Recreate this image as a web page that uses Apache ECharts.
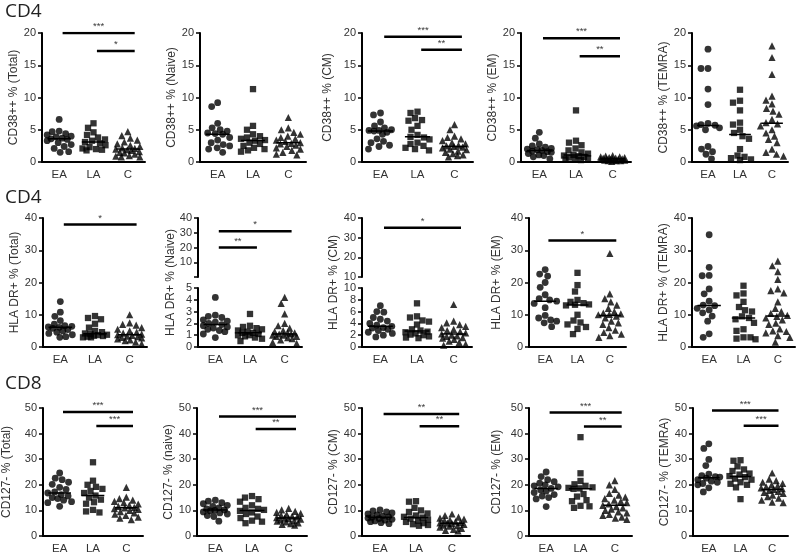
<!DOCTYPE html>
<html><head><meta charset="utf-8">
<script src="https://cdn.jsdelivr.net/npm/echarts@6/dist/echarts.min.js"></script>
<style>html,body{margin:0;padding:0;background:#fff}#c{width:800px;height:555px}</style>
</head><body><div id="c"></div><script>
const groups = ['EA', 'LA', 'C'];
const rowLabels = ['CD4', 'CD4', 'CD8'];

// ---- Row 1: CD38++ ----
const cd38TotEA = [6.6, 4.8, 4.7, 4.4, 4.2, 4.0, 3.9, 3.7, 3.6, 3.5, 3.3, 3.0, 2.7, 2.4, 2.1, 1.6, 1.5];
const cd38TotLA = [6.0, 5.3, 4.6, 4.2, 3.8, 3.5, 3.3, 3.1, 2.9, 2.6, 2.3, 2.1, 2.0, 1.9, 1.8];
const cd38TotC  = [4.7, 4.1, 3.7, 3.4, 3.1, 2.8, 2.6, 2.4, 2.2, 2.1, 2.0, 1.9, 1.8, 1.6, 1.5, 1.4, 1.2, 1.0, 0.9, 0.8, 0.8];
const cd38TotSig = [[0, 2, 20.0, '***'], [1, 2, 17.2, '*']];

const cd38NaiEA = [9.2, 8.6, 6.0, 5.3, 5.0, 4.8, 4.5, 4.4, 4.3, 3.8, 3.4, 3.0, 2.7, 2.5, 2.2, 2.0, 1.5];
const cd38NaiLA = [11.3, 5.6, 5.0, 4.3, 4.0, 3.8, 3.6, 3.4, 3.3, 3.0, 2.8, 2.5, 2.2, 2.0, 1.8, 1.6];
const cd38NaiC  = [6.9, 5.3, 5.0, 4.6, 4.3, 4.0, 3.8, 3.6, 3.4, 3.2, 3.0, 2.9, 2.8, 2.6, 2.4, 2.2, 2.0, 1.8, 1.5, 1.2, 1.1];
const cd38NaiSig = [];

const cd38CmEA = [7.6, 7.3, 6.2, 5.6, 5.3, 5.0, 4.9, 4.9, 4.8, 4.6, 4.3, 3.6, 3.2, 3.0, 2.6, 2.4, 2.0];
const cd38CmLA = [7.8, 7.6, 6.8, 6.5, 6.4, 5.6, 5.0, 4.2, 3.9, 3.8, 3.5, 3.0, 2.8, 2.5, 2.2, 2.0, 1.8];
const cd38CmC  = [5.8, 5.0, 4.0, 3.8, 3.6, 3.3, 3.0, 2.8, 2.6, 2.5, 2.4, 2.3, 2.2, 2.0, 1.9, 1.7, 1.5, 1.3, 1.1, 1.0, 0.8];
const cd38CmSig = [[0, 2, 19.4, '***'], [1, 2, 17.4, '**']];

const cd38EmEA = [4.6, 3.7, 2.8, 2.5, 2.3, 2.1, 2.0, 1.9, 1.8, 1.7, 1.6, 1.5, 1.3, 1.1, 1.0, 0.8, 0.5];
const cd38EmLA = [8.0, 3.3, 3.0, 2.6, 2.1, 1.8, 1.5, 1.3, 1.1, 1.0, 0.9, 0.8, 0.7, 0.6, 0.5, 0.4, 0.3];
const cd38EmC  = [1.0, 0.9, 0.8, 0.8, 0.7, 0.7, 0.6, 0.6, 0.5, 0.5, 0.5, 0.4, 0.4, 0.4, 0.3, 0.3, 0.3, 0.2, 0.2, 0.2, 0.1];
const cd38EmSig = [[0, 2, 19.2, '***'], [1, 2, 16.4, '**']];

const cd38TemEA = [17.5, 14.5, 14.5, 11.3, 8.9, 6.0, 5.8, 5.7, 5.6, 5.3, 5.0, 2.4, 2.0, 1.6, 1.2, 0.5];
const cd38TemLA = [11.2, 9.5, 9.2, 8.0, 6.1, 5.8, 5.0, 4.5, 4.0, 3.6, 2.0, 1.0, 0.8, 0.6, 0.4, 0.3];
const cd38TemC  = [18.0, 16.2, 13.6, 10.2, 9.6, 9.0, 8.3, 7.9, 7.4, 6.6, 6.1, 5.9, 5.6, 5.0, 4.5, 4.0, 3.5, 3.0, 2.0, 1.5, 1.2, 0.9];
const cd38TemSig = [];

// ---- Row 2: HLA DR+ ----
const hlaTotEA = [14.1, 10.8, 9.5, 8.2, 7.1, 6.6, 6.4, 6.2, 6.1, 5.8, 5.4, 5.0, 4.6, 4.2, 3.8, 3.2, 3.0];
const hlaTotLA = [9.6, 9.0, 8.6, 7.2, 6.0, 5.0, 4.6, 4.2, 4.0, 3.8, 3.7, 3.5, 3.4, 3.2, 3.0, 3.0];
const hlaTotC  = [10.0, 7.5, 7.0, 6.8, 6.0, 5.5, 5.0, 4.6, 4.3, 4.0, 3.8, 3.6, 3.4, 3.2, 3.0, 2.8, 2.5, 2.2, 2.0, 1.5, 1.0];
const hlaTotSig = [[0, 2, 38, '*']];

const hlaNaiEA = [4.2, 2.7, 2.6, 2.5, 2.3, 2.2, 2.1, 2.0, 1.9, 1.8, 1.7, 1.6, 1.5, 1.4, 1.3, 1.1, 0.8];
const hlaNaiLA = [2.8, 1.8, 1.7, 1.6, 1.5, 1.4, 1.3, 1.2, 1.2, 1.1, 1.0, 1.0, 0.9, 0.8, 0.7, 0.5];
const hlaNaiC  = [4.2, 3.7, 2.8, 2.0, 1.8, 1.6, 1.4, 1.3, 1.2, 1.2, 1.1, 1.1, 1.0, 1.0, 0.9, 0.9, 0.8, 0.7, 0.6, 0.4, 0.3];
const hlaNaiSig = [[0, 2, 31, '*'], [0, 1, 20, '**']];

const hlaCmEA = [7.0, 6.0, 5.9, 5.0, 4.7, 4.4, 4.0, 3.7, 3.5, 3.3, 3.2, 3.0, 2.8, 2.5, 2.3, 2.0, 1.7];
const hlaCmLA = [7.4, 5.2, 5.0, 4.5, 4.3, 3.8, 3.0, 2.8, 2.6, 2.5, 2.3, 2.1, 2.0, 1.8, 1.6, 1.5];
const hlaCmC  = [7.2, 4.4, 4.1, 3.8, 3.5, 3.3, 3.0, 2.8, 2.6, 2.4, 2.2, 2.0, 1.9, 1.8, 1.6, 1.5, 1.3, 1.0, 0.8, 0.5, 0.3];
const hlaCmSig = [[0, 2, 35, '*']];

const hlaEmEA = [24.0, 22.6, 22.0, 20.0, 18.5, 16.2, 15.0, 14.6, 14.2, 13.5, 12.2, 9.8, 9.0, 8.4, 8.0, 7.5, 6.3];
const hlaEmLA = [23.0, 19.2, 17.2, 14.6, 14.0, 13.6, 13.2, 13.1, 12.9, 10.0, 8.2, 7.6, 7.0, 6.2, 5.6, 4.0];
const hlaEmC  = [29.0, 16.5, 15.0, 14.0, 13.0, 12.0, 11.0, 10.5, 10.3, 10.1, 10.0, 9.6, 9.0, 8.0, 7.5, 7.0, 6.0, 5.2, 4.5, 4.0, 3.5, 3.0];
const hlaEmSig = [[0, 2, 33, '*']];

const hlaTemEA = [34.8, 24.7, 22.2, 22.1, 18.0, 16.5, 14.2, 13.0, 12.8, 12.0, 11.5, 10.6, 9.6, 8.0, 4.1, 3.0];
const hlaTemLA = [19.0, 16.6, 16.0, 14.0, 12.4, 11.4, 11.0, 9.5, 9.0, 8.6, 7.5, 5.5, 5.0, 3.0, 3.0, 2.6, 2.4];
const hlaTemC  = [26.6, 25.2, 23.4, 21.0, 18.0, 17.5, 16.8, 14.0, 12.0, 11.0, 10.4, 9.8, 9.5, 9.0, 8.4, 7.4, 7.0, 5.6, 5.0, 4.8, 4.4, 3.5, 3.0, 1.5];
const hlaTemSig = [];

// ---- Row 3: CD127- ----
const cd127TotEA = [24.6, 22.6, 22.0, 21.0, 20.2, 19.0, 18.2, 17.2, 16.8, 16.2, 15.6, 15.0, 14.6, 14.0, 13.4, 13.0, 11.6];
const cd127TotLA = [28.8, 21.6, 20.0, 19.2, 18.4, 17.6, 16.8, 15.8, 15.0, 14.2, 13.2, 12.6, 10.2, 9.6, 9.2];
const cd127TotC  = [19.0, 15.2, 14.6, 14.0, 13.5, 13.0, 12.5, 12.0, 11.6, 11.2, 11.0, 10.7, 10.4, 10.0, 9.5, 9.0, 8.5, 8.0, 7.4, 7.0, 6.4];
const cd127TotSig = [[0, 2, 48.4, '***'], [1, 2, 43.0, '***']];

const cd127NaiEA = [14.0, 13.6, 13.0, 12.6, 12.0, 11.6, 11.0, 10.6, 10.2, 10.0, 9.8, 9.4, 9.0, 8.6, 8.0, 7.6, 5.8];
const cd127NaiLA = [15.6, 15.0, 14.4, 13.4, 12.0, 11.0, 10.6, 10.2, 9.8, 9.2, 8.6, 7.6, 7.0, 6.0, 5.6, 5.0];
const cd127NaiC  = [10.8, 10.2, 9.6, 9.2, 8.8, 8.4, 8.0, 7.8, 7.5, 7.2, 7.0, 6.8, 6.6, 6.3, 6.0, 5.8, 5.5, 5.1, 4.8, 4.5, 4.2];
const cd127NaiSig = [[0, 2, 46.7, '***'], [1, 2, 41.8, '**']];

const cd127CmEA = [10.2, 9.8, 9.4, 9.0, 8.6, 8.2, 7.8, 7.5, 7.3, 7.0, 6.8, 6.5, 6.2, 5.9, 5.6, 5.2, 4.8];
const cd127CmLA = [13.6, 13.4, 11.0, 10.0, 9.4, 8.8, 8.0, 7.5, 7.2, 6.8, 6.4, 6.0, 5.5, 5.0, 4.6, 4.3, 4.0];
const cd127CmC  = [8.6, 8.0, 7.4, 7.0, 6.6, 6.2, 6.0, 5.6, 5.3, 5.1, 5.0, 4.8, 4.5, 4.2, 4.0, 3.8, 3.5, 3.0, 2.6, 2.2, 2.0];
const cd127CmSig = [[0, 2, 47.7, '**'], [1, 2, 42.9, '**']];

const cd127EmEA = [25.0, 23.2, 22.0, 21.2, 20.6, 20.0, 19.6, 19.2, 18.6, 18.0, 17.5, 17.0, 16.2, 15.6, 15.0, 14.5, 11.5];
const cd127EmLA = [38.6, 24.5, 21.5, 20.2, 19.6, 19.0, 18.8, 18.6, 18.4, 16.4, 15.4, 14.0, 13.6, 11.8, 11.6, 11.0];
const cd127EmC  = [21.6, 20.0, 18.2, 16.6, 16.0, 15.2, 14.6, 14.0, 13.5, 13.0, 12.5, 12.0, 11.5, 11.0, 10.5, 10.0, 9.4, 9.0, 8.4, 8.0, 7.4, 7.0, 6.5];
const cd127EmSig = [[0, 2, 48.2, '***'], [1, 2, 42.8, '**']];

const cd127TemEA = [36.0, 34.2, 29.9, 27.5, 24.2, 23.6, 23.2, 23.0, 22.6, 22.0, 21.4, 21.0, 20.5, 20.0, 18.8, 17.2];
const cd127TemLA = [29.6, 29.4, 27.2, 26.0, 25.4, 24.4, 24.0, 23.4, 23.0, 22.4, 22.0, 21.0, 20.4, 20.0, 19.0, 14.4];
const cd127TemC  = [24.6, 22.2, 21.6, 21.0, 20.5, 20.0, 19.6, 19.2, 18.8, 18.5, 18.2, 17.8, 17.4, 17.0, 16.6, 16.0, 15.4, 14.8, 14.0, 13.2, 13.0];
const cd127TemSig = [[0, 2, 49.0, '***'], [1, 2, 43.1, '***']];

// ---- panel definitions (content) ----
const panels = [
  {r:0, c:0, name:'CD38++ % (Total)', vals:[cd38TotEA, cd38TotLA, cd38TotC], max:20, step:5, sig:cd38TotSig},
  {r:0, c:1, name:'CD38++ % (Naive)', vals:[cd38NaiEA, cd38NaiLA, cd38NaiC], max:20, step:5, sig:cd38NaiSig},
  {r:0, c:2, name:'CD38++ % (CM)', vals:[cd38CmEA, cd38CmLA, cd38CmC], max:20, step:5, sig:cd38CmSig},
  {r:0, c:3, name:'CD38++ % (EM)', vals:[cd38EmEA, cd38EmLA, cd38EmC], max:20, step:5, sig:cd38EmSig},
  {r:0, c:4, name:'CD38++ % (TEMRA)', vals:[cd38TemEA, cd38TemLA, cd38TemC], max:20, step:5, sig:cd38TemSig},
  {r:1, c:0, name:'HLA DR+ % (Total)', vals:[hlaTotEA, hlaTotLA, hlaTotC], max:40, step:10, sig:hlaTotSig},
  {r:1, c:1, name:'HLA DR+ % (Naive)', vals:[hlaNaiEA, hlaNaiLA, hlaNaiC], max:5, step:1, upper:{min:0, max:40, step:10, hideMin:true}, sig:hlaNaiSig},
  {r:1, c:2, name:'HLA DR+ % (CM)', vals:[hlaCmEA, hlaCmLA, hlaCmC], max:10, step:2, upper:{min:10, max:40, step:10}, sig:hlaCmSig},
  {r:1, c:3, name:'HLA DR+ % (EM)', vals:[hlaEmEA, hlaEmLA, hlaEmC], max:40, step:10, sig:hlaEmSig},
  {r:1, c:4, name:'HLA DR+ % (TEMRA)', vals:[hlaTemEA, hlaTemLA, hlaTemC], max:40, step:10, sig:hlaTemSig},
  {r:2, c:0, name:'CD127- % (Total)', vals:[cd127TotEA, cd127TotLA, cd127TotC], max:50, step:10, sig:cd127TotSig},
  {r:2, c:1, name:'CD127- % (naive)', vals:[cd127NaiEA, cd127NaiLA, cd127NaiC], max:50, step:10, sig:cd127NaiSig},
  {r:2, c:2, name:'CD127- % (CM)', vals:[cd127CmEA, cd127CmLA, cd127CmC], max:50, step:10, sig:cd127CmSig},
  {r:2, c:3, name:'CD127- % (EM)', vals:[cd127EmEA, cd127EmLA, cd127EmC], max:50, step:10, sig:cd127EmSig},
  {r:2, c:4, name:'CD127- % (TEMRA)', vals:[cd127TemEA, cd127TemLA, cd127TemC], max:50, step:10, sig:cd127TemSig}
];

// ---- layout (positions / styles) ----
const FONT = "'Liberation Sans', Arial, sans-serif";
const rowTop = [33, 218, 408];
const rowBottom = [162, 347, 537];
const upperBottom = 277, lowerTop = 288;
const colX = [
  [[42,145],[200,306],[362,473],[521,631],[692,788]],
  [[43,147],[198,302],[362,472],[529,626],[692,795]],
  [[42,143],[197,307],[362,470],[529,632],[693,788]]
];
const nameCenter = [[22,27,35,28,27],[28,28,29,33,25],[37,25,29,33,22]];
const rowLabelTop = [2, 188, 374];
const SYM = ['circle', 'rect', 'triangle'];
const SYMSIZE = [6.8, 6.3, 7.2];

function swarm(values, ppu, bandPx, d, maxSpread) {
  const order = values.map((v, i) => i).sort((a, b) => values[b] - values[a]);
  const placed = [];
  const off = new Array(values.length);
  for (const i of order) {
    const y = values[i] * ppu;
    let chosen = null, bestX = 0, bestD = -1;
    for (let k = 0; ; k++) {
      const cand = (k % 2 === 0 ? 1 : -1) * Math.ceil(k / 2) * 0.5;
      if (Math.abs(cand) > maxSpread) break;
      let minD = Infinity;
      for (const p of placed) {
        const dd = Math.hypot(p.x - cand, p.y - y);
        if (dd < minD) minD = dd;
      }
      if (minD >= d) { chosen = cand; break; }
      if (minD > bestD) { bestD = minD; bestX = cand; }
    }
    if (chosen === null) chosen = bestX;
    placed.push({x: chosen, y});
    off[i] = chosen / bandPx;
  }
  return off;
}
function median(a) {
  const s = a.slice().sort((x, y) => x - y);
  const n = s.length;
  return n % 2 ? s[(n - 1) / 2] : (s[n / 2 - 1] + s[n / 2]) / 2;
}

const option = {
  animation: false,
  backgroundColor: '#fff',
  textStyle: {fontFamily: FONT},
  graphic: rowLabels.map((t, i) => ({
    type: 'text', left: 5, top: rowLabelTop[i],
    style: {text: t, fontSize: 19, fontFamily: "'Open Sans', sans-serif", fill: '#222'}
  })),
  grid: [], xAxis: [], yAxis: [], series: []
};

function addGrid(left, top, width, height) {
  option.grid.push({left, top, width, height, containLabel: false});
  return option.grid.length - 1;
}
function catAxis(g, show) {
  option.xAxis.push({
    type: 'category', gridIndex: g, data: groups, boundaryGap: true, show,
    axisLine: {show: true, onZero: false, lineStyle: {color: '#000', width: 2}},
    axisTick: {show: false},
    axisLabel: {fontSize: 11.5, color: '#333', margin: 7}
  });
  return option.xAxis.length - 1;
}
function valX(g) {
  option.xAxis.push({type: 'value', gridIndex: g, min: 0, max: 3, show: false});
  return option.xAxis.length - 1;
}
function yAx(g, min, max, step, name, gap, hideMin) {
  option.yAxis.push({
    type: 'value', gridIndex: g, min, max, interval: step,
    axisLine: {show: true, onZero: false, lineStyle: {color: '#000', width: 2}},
    axisTick: {show: true, length: 4, lineStyle: {color: '#000', width: 1.5}},
    axisLabel: {fontSize: 11, color: '#333', margin: 6,
      formatter: v => (hideMin && v === min) ? '' : String(v)},
    splitLine: {show: false},
    name: name || '', nameLocation: 'middle', nameGap: gap, nameRotate: 90,
    nameTextStyle: {fontSize: 12, color: '#333'}
  });
  return option.yAxis.length - 1;
}

panels.forEach(p => {
  const [L, R] = colX[p.r][p.c];
  const T = rowTop[p.r], B = rowBottom[p.r];
  const W = R - L;
  const gap = nameCenter[p.r][p.c] - 7;
  const lt = p.upper ? lowerTop : T;
  const g = addGrid(L, lt, W, B - lt);
  catAxis(g, true);
  const xv = valX(g);
  const yi = yAx(g, 0, p.max, p.step, p.upper ? '' : p.name, gap, false);
  let sx = xv, sy = yi;
  if (p.upper) {
    const gu = addGrid(L, T, W, upperBottom - T);
    catAxis(gu, false);
    sx = valX(gu);
    sy = yAx(gu, p.upper.min, p.upper.max, p.upper.step, '', gap, p.upper.hideMin);
    const gn = addGrid(L, T, W, B - T);
    option.xAxis.push({type: 'value', gridIndex: gn, show: false, min: 0, max: 3});
    option.yAxis.push({
      type: 'value', gridIndex: gn, min: 0, max: 1, show: true,
      axisLine: {show: false}, axisTick: {show: false}, axisLabel: {show: false}, splitLine: {show: false},
      name: p.name, nameLocation: 'middle', nameGap: gap, nameRotate: 90,
      nameTextStyle: {fontSize: 12, color: '#333'}
    });
  }
  const ppu = (B - lt) / p.max;
  const band = W / 3;
  p.vals.forEach((arr, k) => {
    const off = swarm(arr, ppu, band, 6.8, Math.min(0.36 * band, 12));
    option.series.push({
      type: 'scatter', xAxisIndex: xv, yAxisIndex: yi, silent: true, z: 3,
      symbol: SYM[k], symbolSize: SYMSIZE[k], itemStyle: {color: '#000'},
      data: arr.map((v, i) => [k + 0.5 + off[i], v])
    });
    const m = median(arr);
    option.series.push({
      type: 'line', xAxisIndex: xv, yAxisIndex: yi, silent: true, z: 4,
      symbol: 'none', lineStyle: {color: '#000', width: 1.5},
      data: [[k + 0.5 - 0.34, m], [k + 0.5 + 0.34, m]]
    });
  });
  p.sig.forEach(([a, b, y, stars]) => {
    const x0 = a + 0.5 + 0.1, x1 = b + 0.5 + 0.2;
    option.series.push({
      type: 'line', xAxisIndex: sx, yAxisIndex: sy, silent: true, z: 4,
      symbol: 'none', lineStyle: {color: '#000', width: 2.5},
      data: [[x0, y], [x1, y]]
    });
    option.series.push({
      type: 'scatter', xAxisIndex: sx, yAxisIndex: sy, silent: true, z: 5,
      symbolSize: 1, itemStyle: {color: 'rgba(0,0,0,0)'},
      label: {show: true, position: 'top', distance: 1, formatter: '{b}',
        fontSize: 9.5, color: '#000'},
      data: [{name: stars, value: [(x0 + x1) / 2, y]}]
    });
  });
});

const chart = echarts.init(document.getElementById('c'), null, {renderer: 'canvas'});
chart.setOption(option);
</script></body></html>
